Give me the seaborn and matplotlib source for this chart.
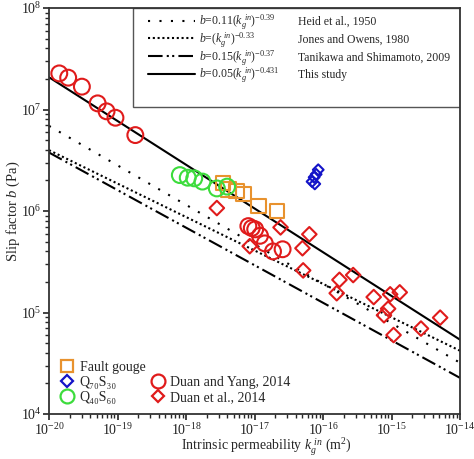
import numpy as np
import pandas as pd
import matplotlib
matplotlib.use('Agg')
import matplotlib.pyplot as plt
from matplotlib.lines import Line2D
from matplotlib.patches import Rectangle
import seaborn as sns

# model lines: end points at k = 1e-20 and 1e-14
line_k = [1e-20, 1e-14]
heid_b = [6.9e6, 3.2e4]
jones_b = [3.98e6, 4.2e4]
tanikawa_b = [3.77e6, 2.27e4]
study_b = [2.08e7, 5.4e4]

line_formulas = [r'$b$=0.11($k_g^{\ in}$)$^{-0.39}$',
                 r'$b$=($k_g^{\ in}$)$^{-0.33}$',
                 r'$b$=0.15($k_g^{\ in}$)$^{-0.37}$',
                 r'$b$=0.05($k_g^{\ in}$)$^{-0.431}$']
line_refs = ['Heid et al., 1950', 'Jones and Owens, 1980',
             'Tanikawa and Shimamoto, 2009', 'This study']

# measured points (log10 of permeability, slip factor in Pa)
gouge_logk = [-17.46, -17.38, -17.26, -17.16, -16.94, -16.67]
gouge_b = [1.88e6, 1.64e6, 1.58e6, 1.47e6, 1.12e6, 1.0e6]

q70_logk = [-16.07, -16.10, -16.13, -16.16, -16.12]
q70_b = [2.55e6, 2.3e6, 2.15e6, 1.95e6, 1.85e6]

q40_logk = [-18.09, -17.975, -17.88, -17.76, -17.55, -17.40]
q40_b = [2.26e6, 2.13e6, 2.1e6, 1.95e6, 1.67e6, 1.74e6]

dy_logk = [-19.85, -19.72, -19.52, -19.29, -19.16, -19.03, -18.74,
           -17.09, -17.04, -16.99, -16.92, -16.85, -16.73, -16.59]
dy_b = [2.27e7, 2.06e7, 1.68e7, 1.15e7, 9.6e6, 8.3e6, 5.6e6,
        7.1e5, 6.8e5, 6.6e5, 5.7e5, 4.8e5, 4.0e5, 4.2e5]

de_logk = [-17.55, -17.07, -16.62, -16.30, -16.29, -16.20, -15.76, -15.56,
           -15.80, -15.26, -15.02, -14.88, -15.05, -15.11, -14.97, -14.57, -14.29]
de_b = [1.07e6, 4.5e5, 6.9e5, 4.3e5, 2.6e5, 5.9e5, 2.1e5, 2.34e5,
        1.55e5, 1.42e5, 1.51e5, 1.58e5, 1.09e5, 9.4e4, 6.0e4, 6.95e4, 8.9e4]

c_orange = '#E8922E'
c_blue = '#1414C8'
c_green = '#3CDC3C'
c_red = '#E01B1B'

sns.set_style('ticks')
plt.rcParams['font.family'] = ['Liberation Serif', 'DejaVu Serif']
plt.rcParams['mathtext.fontset'] = 'custom'
plt.rcParams['mathtext.rm'] = 'Liberation Serif'
plt.rcParams['mathtext.it'] = 'Liberation Serif:italic'
plt.rcParams['mathtext.bf'] = 'Liberation Serif:bold'

fig = plt.figure(figsize=(4.74, 4.59), dpi=100)
ax = fig.add_axes([0.1034, 0.098, 0.8671, 0.8845])
ax.set_xscale('log')
ax.set_yscale('log')

line_styles = [(0, (1, 4.5)), (0, (1, 1.3)), (0, (7, 2, 1, 1.6, 1, 2)), '-']
line_data = [heid_b, jones_b, tanikawa_b, study_b]
for yb, ls in zip(line_data, line_styles):
    sns.lineplot(x=line_k, y=yb, color='black', linestyle=ls, linewidth=1.5, ax=ax)


def pts(logk, b, marker, color, size):
    sns.scatterplot(x=10.0 ** np.array(logk), y=b, marker=marker, s=size,
                    facecolor='none', edgecolor=color, linewidth=1.5, ax=ax, zorder=3)


pts(gouge_logk, gouge_b, 's', c_orange, 110)
pts(q40_logk, q40_b, 'o', c_green, 130)
pts(dy_logk, dy_b, 'o', c_red, 130)
pts(de_logk, de_b, 'D', c_red, 55)
pts(q70_logk, q70_b, 'D', c_blue, 30)

ax.set_xlim(1e-20, 1e-14)
ax.set_ylim(1e4, 1e8)
ax.set_xticks([1e-20, 1e-19, 1e-18, 1e-17, 1e-16, 1e-15, 1e-14])
ax.set_yticks([1e4, 1e5, 1e6, 1e7, 1e8])
ax.tick_params(axis='both', which='major', direction='out', length=4.5, width=1.2,
               labelsize=10, colors='#222222', pad=1, top=False, right=False)
ax.tick_params(axis='both', which='minor', direction='out', length=3, width=1.0,
               top=False, right=False)
for sp in ax.spines.values():
    sp.set_color('#333333')
    sp.set_linewidth(1.3)

ax.set_xlabel(r'Intrinsic permeability $k_g^{\ in}$ (m$^2$)', fontsize=10)
ax.xaxis.set_label_coords(0.53, -0.057)
ax.set_ylabel(r'Slip factor $b$ (Pa)', fontsize=10.5, labelpad=-1)

# model-line legend (formulas), citations are placed on the same rows afterwards
line_handles = [Line2D([], [], color='black', linestyle=ls, linewidth=1.5) for ls in line_styles]
leg1 = ax.legend(line_handles, line_formulas,
                 loc='upper left', bbox_to_anchor=(0.229, 1.0), borderaxespad=0,
                 borderpad=0.4, frameon=False,
                 fontsize=8.5, handlelength=4.0, handletextpad=0.3,
                 labelspacing=-0.15)
ax.add_patch(Rectangle((0.205, 0.756), 0.795, 0.244, transform=ax.transAxes,
                       fill=False, edgecolor='#555555', linewidth=1.0, zorder=1))
ax.add_artist(leg1)

# marker legend
mk = dict(linestyle='none', markerfacecolor='none', markeredgewidth=1.6)
mhandles = [Line2D([], [], marker='s', markersize=9, markeredgecolor=c_orange, **mk),
            Line2D([], [], marker='D', markersize=6.5, markeredgecolor=c_blue, **mk),
            Line2D([], [], marker='o', markersize=10, markeredgecolor=c_green, **mk),
            Line2D([], [], linestyle='none'),
            Line2D([], [], marker='o', markersize=10, markeredgecolor=c_red, **mk),
            Line2D([], [], marker='D', markersize=6.5, markeredgecolor=c_red, **mk)]
mlabels = ['Fault gouge', 'Q\u2087\u2080S\u2083\u2080', 'Q\u2084\u2080S\u2086\u2080', ' ',
           'Duan and Yang, 2014', 'Duan et al., 2014']
ax.legend(mhandles, mlabels, ncol=2, loc='lower left', bbox_to_anchor=(0.0, 0.0),
          borderaxespad=0, borderpad=0.7,
          frameon=False, fontsize=10, handlelength=1.2, handletextpad=0.3,
          columnspacing=0.3, labelspacing=0.15)

# citations beside each formula row, on the same baseline
fig.canvas.draw()
inv = ax.transAxes.inverted()
for t, ref in zip(leg1.get_texts(), line_refs):
    xd, yd = t.get_transform().transform(t.get_position())
    ya = inv.transform((xd, yd))[1]
    ax.text(0.606, ya, ref, transform=ax.transAxes, fontsize=8.5,
            va='baseline', ha='left')

fig.savefig('out.png', dpi=100)
